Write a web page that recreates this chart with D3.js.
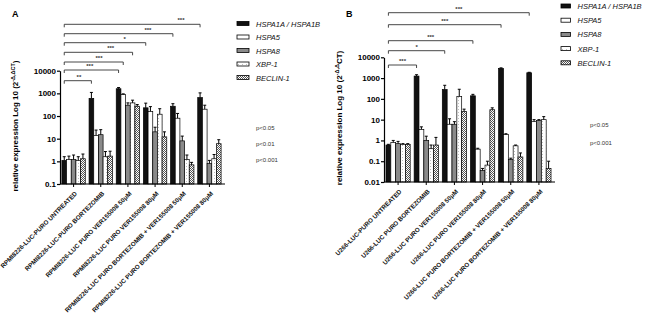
<!DOCTYPE html>
<html><head><meta charset="utf-8">
<script src="https://cdn.jsdelivr.net/npm/d3@7"></script>
<style>body{margin:0;background:#fff}svg{display:block}text{font-family:"Liberation Sans",Arial,sans-serif}</style>
</head><body><svg id="c" width="650" height="315"></svg>
<script>
// ---------- DATA ----------
const seriesNames = ["HSPA1A / HSPA1B", "HSPA5", "HSPA8", "XBP-1", "BECLIN-1"];

const categoriesA = ["RPMI8226-LUC-PURO UNTREATED", "RPMI8226-LUC-PURO BORTEZOMIB", "RPMI8226-LUC PURO VER155008 50\u03bcM",
  "RPMI8226-LUC PURO VER155008 80\u03bcM", "RPMI8226-LUC PURO BORTEZOMIB + VER155008 50\u03bcM", "RPMI8226-LUC PURO BORTEZOMIB + VER155008 80\u03bcM"];
const categoriesB = ["U266-LUC-PURO UNTREATED", "U266-LUC PURO BORTEZOMIB", "U266-LUC PURO VER155008 50\u03bcM",
  "U266-LUC PURO VER155008 80\u03bcM", "U266-LUC PURO BORTEZOMIB + VER155008 50\u03bcM", "U266-LUC PURO BORTEZOMIB + VER155008 80\u03bcM"];

// Panel A means (per series, per category) and upper error-bar ends
const A_HSPA1A = [1.1, 600, 1600, 230, 270, 650];
const A_HSPA5  = [1.2, 14, 900, 160, 80, 200];
const A_HSPA8  = [1.2, 15, 300, 20, 8, 0.8];
const A_XBP1   = [1.1, 1.6, 380, 120, 1.2, 1.3];
const A_BECLIN = [1.3, 1.7, 270, 12, 0.7, 6];
const A_HSPA1A_top = [1.6, 1100, 1800, 370, 350, 1050];
const A_HSPA5_top  = [1.7, 24, 950, 260, 130, 300];
const A_HSPA8_top  = [1.9, 25, 380, 32, 13, 1.1];
const A_XBP1_top   = [1.6, 2.7, 500, 210, 1.9, 2.0];
const A_BECLIN_top = [2.1, 2.8, 320, 20, 0.9, 9];

// Panel B
const B_HSPA1A = [0.6, 1250, 280, 140, 2900, 1800];
const B_HSPA5  = [0.8, 3.4, 6, 0.38, 1.9, 8];
const B_HSPA8  = [0.7, 1.0, 6, 0.036, 0.12, 9];
const B_XBP1   = [0.65, 0.4, 130, 0.065, 0.55, 10];
const B_BECLIN = [0.65, 0.6, 25, 30, 0.16, 0.045];
const B_HSPA1A_top = [0.65, 1450, 450, 165, 3100, 1900];
const B_HSPA5_top  = [1.0, 4.5, 11, 0.42, 2.1, 10];
const B_HSPA8_top  = [0.9, 1.6, 8, 0.045, 0.14, 10];
const B_XBP1_top   = [0.7, 0.6, 290, 0.1, 0.6, 14];
const B_BECLIN_top = [0.7, 1.4, 32, 37, 0.25, 0.1];

const yTicksA = [0.1, 1, 10, 100, 1000, 10000];
const yTicksB = [0.01, 0.1, 1, 10, 100, 1000, 10000];

// significance brackets: [fromCategory, fromSeries, toCategory, toSeries, label]
const bracketsA = [[0,0,5,0,"***"],[0,0,4,0,"***"],[0,0,3,0,"*"],[0,0,2,3,"***"],[0,0,2,1,"***"],[0,0,2,0,"***"],[0,0,1,0,"**"]];
const bracketsB = [[0,0,5,0,"***"],[0,0,4,0,"***"],[0,0,3,0,"***"],[0,0,2,0,"*"],[0,0,1,0,"***"]];

const pLabelsA = ["p<0.05", "p<0.01", "p<0.001"];
const pLabelsB = ["p<0.05", "p<0.001"];

// ---------- DRAWING ----------
const svg = d3.select("#c");
const defs = svg.append("defs");
const pb = defs.append("pattern").attr("id","pBeclin").attr("patternUnits","userSpaceOnUse").attr("width",2).attr("height",2);
pb.append("rect").attr("width",2).attr("height",2).attr("fill","#fff");
pb.append("rect").attr("width",1).attr("height",1).attr("fill","#555");
pb.append("rect").attr("x",1).attr("y",1).attr("width",1).attr("height",1).attr("fill","#555");
const px = defs.append("pattern").attr("id","pXbp").attr("patternUnits","userSpaceOnUse").attr("width",4).attr("height",3);
px.append("rect").attr("width",4).attr("height",3).attr("fill","#fff");
px.append("rect").attr("x",2).attr("y",1).attr("width",0.8).attr("height",0.8).attr("fill","#999");

const fills = ["#111", "#fff", "#8a8a8a", "url(#pXbp)", "url(#pBeclin)"];

function fmt(v){ return v >= 1 ? String(v) : String(v); }

function drawPanel(cfg){
  const g = svg.append("g");
  const x0 = d3.scaleBand().domain(d3.range(cfg.categories.length)).range(cfg.xRange).paddingInner(0.14).paddingOuter(0.07);
  const x1 = d3.scaleBand().domain(d3.range(seriesNames.length)).range([0, x0.bandwidth()]);
  const y = d3.scaleLog().domain(cfg.yDomain).range(cfg.yRange);

  // bars
  cfg.values.forEach((vals, s) => {
    const gs = g.append("g");
    gs.selectAll("rect").data(vals).join("rect")
      .attr("x", (d,i) => x0(i) + x1(s))
      .attr("width", x1.bandwidth())
      .attr("y", d => y(d))
      .attr("height", d => y(cfg.yDomain[0]) - y(d))
      .attr("fill", fills[s]).attr("stroke", "#000").attr("stroke-width", 0.7);
    const tops = cfg.tops[s];
    gs.selectAll("path.err").data(vals).join("path").attr("class","err")
      .attr("d", (d,i) => {
        const cx = x0(i) + x1(s) + x1.bandwidth()/2;
        return `M${cx},${y(d)}V${y(tops[i])}M${cx-1.5},${y(tops[i])}H${cx+1.5}`;
      })
      .attr("stroke", "#000").attr("stroke-width", 1).attr("fill","none");
  });

  // y axis
  const ya = g.append("g").attr("transform", `translate(${cfg.xRange[0]},0)`)
    .call(d3.axisLeft(y).tickValues(cfg.yTicks).tickFormat(d => String(d)).tickSize(3).tickPadding(1).tickSizeOuter(0));
  ya.select(".domain").attr("stroke-width", 1.2);
  ya.selectAll("line").attr("stroke-width", 1.2);
  ya.selectAll("text").attr("font-size", 8).attr("font-weight", "bold").attr("fill","#000");

  // x axis
  const xa = g.append("g").attr("transform", `translate(0,${cfg.yRange[0]})`)
    .call(d3.axisBottom(x0).tickSize(3).tickSizeOuter(0).tickFormat(i => cfg.categories[i]));
  xa.select(".domain").attr("d", `M${cfg.xRange[0]},0H${cfg.xAxisEnd}`).attr("stroke-width", 1.2);
  xa.selectAll("line").attr("stroke-width", 1);
  xa.selectAll("text").attr("font-size", 6.3).attr("font-weight", "bold").attr("fill","#111")
    .attr("text-anchor", "end").attr("dy", 0).attr("y", 0)
    .attr("transform", "translate(4,10) rotate(-45)");

  // y label
  const t = g.append("text").attr("transform", `translate(${cfg.labelX},${cfg.labelY}) rotate(-90)`)
    .attr("text-anchor","middle").attr("font-size", 8).attr("font-weight","bold");
  t.append("tspan").text("relative expression Log 10 (2");
  t.append("tspan").attr("font-size", 5.5).attr("dy", -3).text(cfg.sup);
  t.append("tspan").attr("dy", 3).text(cfg.after);

  // panel letter
  g.append("text").attr("x", cfg.letterX).attr("y", 17).attr("font-size", 9).attr("font-weight","bold").text(cfg.letter);

  // brackets
  cfg.brackets.forEach((b, k) => {
    const xa_ = x0(b[0]) + x1(b[1]) + x1.bandwidth()/2;
    const xb_ = x0(b[2]) + x1(b[3]) + x1.bandwidth()/2;
    const by = cfg.bracketY[k];
    g.append("path").attr("d", `M${xa_},${by+3}V${by}H${xb_}V${by+3}`)
      .attr("fill","none").attr("stroke","#333").attr("stroke-width", 0.9);
    g.append("text").attr("x", xa_ + (xb_ - xa_) * cfg.labelFrac[k]).attr("y", by - 2)
      .attr("text-anchor","middle").attr("font-size", 6).attr("font-weight","bold").attr("fill","#333").text(b[4]);
  });

  // legend
  seriesNames.forEach((n, s) => {
    const ly = cfg.legendY + s * cfg.legendStep;
    g.append("rect").attr("x", cfg.legendX).attr("y", ly - 2).attr("width", cfg.swW).attr("height", 4)
      .attr("fill", fills[s]).attr("stroke", "#000").attr("stroke-width", 0.8);
    g.append("text").attr("x", cfg.legendX + cfg.swW + 7).attr("y", ly + 3).attr("font-size", 7.5)
      .attr("font-style","italic").attr("fill","#111").text(n);
  });

  // p-values
  cfg.pLabels.forEach((p, k) => {
    g.append("text").attr("x", cfg.pX).attr("y", cfg.pY[k]).attr("font-size", 6).attr("fill","#333").text(p);
  });
}

drawPanel({
  categories: categoriesA,
  values: [A_HSPA1A, A_HSPA5, A_HSPA8, A_XBP1, A_BECLIN],
  tops: [A_HSPA1A_top, A_HSPA5_top, A_HSPA8_top, A_XBP1_top, A_BECLIN_top],
  yTicks: yTicksA, yDomain: [0.1, 10000], yRange: [184, 70.7], xRange: [60, 223], xAxisEnd: 225,
  labelX: 18, labelY: 126, sup: "-\u0394,\u0394CT", after: ")", letter: "A", letterX: 12,
  brackets: bracketsA, bracketY: [24.3, 33.7, 42.7, 52.3, 62, 70, 80.7],
  labelFrac: [0.86, 0.77, 0.74, 0.68, 0.59, 0.47, 0.54],
  legendX: 237, legendY: 23.5, legendStep: 13.5, swW: 12,
  pLabels: pLabelsA, pX: 256, pY: [130, 146, 162]
});

drawPanel({
  categories: categoriesB,
  values: [B_HSPA1A, B_HSPA5, B_HSPA8, B_XBP1, B_BECLIN],
  tops: [B_HSPA1A_top, B_HSPA5_top, B_HSPA8_top, B_XBP1_top, B_BECLIN_top],
  yTicks: yTicksB, yDomain: [0.01, 10000], yRange: [182, 57.3], xRange: [384, 553], xAxisEnd: 555,
  labelX: 342, labelY: 118, sup: "-\u0394,\u0394", after: "CT)", letter: "B", letterX: 346,
  brackets: bracketsB, bracketY: [12.7, 24.7, 40.7, 50.7, 65],
  labelFrac: [0.5, 0.5, 0.5, 0.5, 0.5],
  legendX: 561, legendY: 6, legendStep: 14.2, swW: 9.5,
  pLabels: pLabelsB, pX: 590, pY: [127, 145]
});
</script></body></html>
